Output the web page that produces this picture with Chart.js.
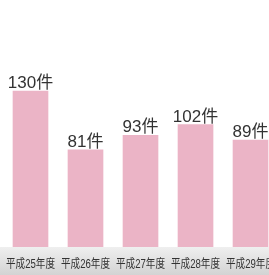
<!DOCTYPE html>
<html>
<head>
<meta charset="utf-8">
<script src="https://cdn.jsdelivr.net/npm/chart.js@4"></script>
<style>
  html, body { margin: 0; padding: 0; background: #fff; overflow: hidden; }
</style>
</head>
<body>
<canvas id="grafica" width="269" height="275"></canvas>
<script>
// datos
const nendo = ['平成25年度', '平成26年度', '平成27年度', '平成28年度', '平成29年度'];
const kensu = [130, 81, 93, 102, 89];
const tani = '件';

const etiquetas = {
  id: 'etiquetas',
  beforeDraw(chart) {
    const { ctx, chartArea } = chart;
    const g = ctx.createLinearGradient(0, chartArea.bottom, 0, chart.height);
    g.addColorStop(0, '#efefef');
    g.addColorStop(1, '#d3d3d3');
    ctx.save();
    ctx.fillStyle = g;
    ctx.fillRect(0, chartArea.bottom, chart.width, chart.height - chartArea.bottom);
    ctx.restore();
  },
  afterDatasetsDraw(chart) {
    const { ctx, chartArea } = chart;
    const meta = chart.getDatasetMeta(0);
    const xs = chart.scales.x;
    ctx.save();
    ctx.fillStyle = '#333';
    ctx.textAlign = 'center';
    ctx.textBaseline = 'alphabetic';
    ctx.font = '17px "Liberation Sans", "Noto Sans CJK JP", sans-serif';
    meta.data.forEach((bar, i) => {
      ctx.fillText(kensu[i] + tani, bar.x, bar.y - 3);
    });
    // eje x, letra un poco comprimida
    ctx.font = '12px "Liberation Sans", "Noto Sans CJK JP", sans-serif';
    ctx.textBaseline = 'middle';
    nendo.forEach((t, i) => {
      const x = xs.getPixelForValue(i);
      ctx.save();
      ctx.translate(x, chartArea.bottom + 18);
      ctx.scale(0.8, 1);
      ctx.fillText(t, 0, 0);
      ctx.restore();
    });
    ctx.restore();
  }
};

new Chart(document.getElementById('grafica'), {
  type: 'bar',
  data: {
    datasets: [{
      data: kensu.map((v, i) => ({ x: i, y: v })),
      backgroundColor: '#ebb4c6',
      borderWidth: 0,
      barThickness: 35
    }]
  },
  options: {
    responsive: false,
    animation: false,
    layout: { padding: { bottom: 28 } },
    plugins: {
      legend: { display: false },
      tooltip: { enabled: false }
    },
    scales: {
      x: { type: 'linear', display: false, offset: false, min: -0.5545, max: 4.336 },
      y: { display: false, min: 0, max: 205.8 }
    }
  },
  plugins: [etiquetas]
});
</script>
</body>
</html>
